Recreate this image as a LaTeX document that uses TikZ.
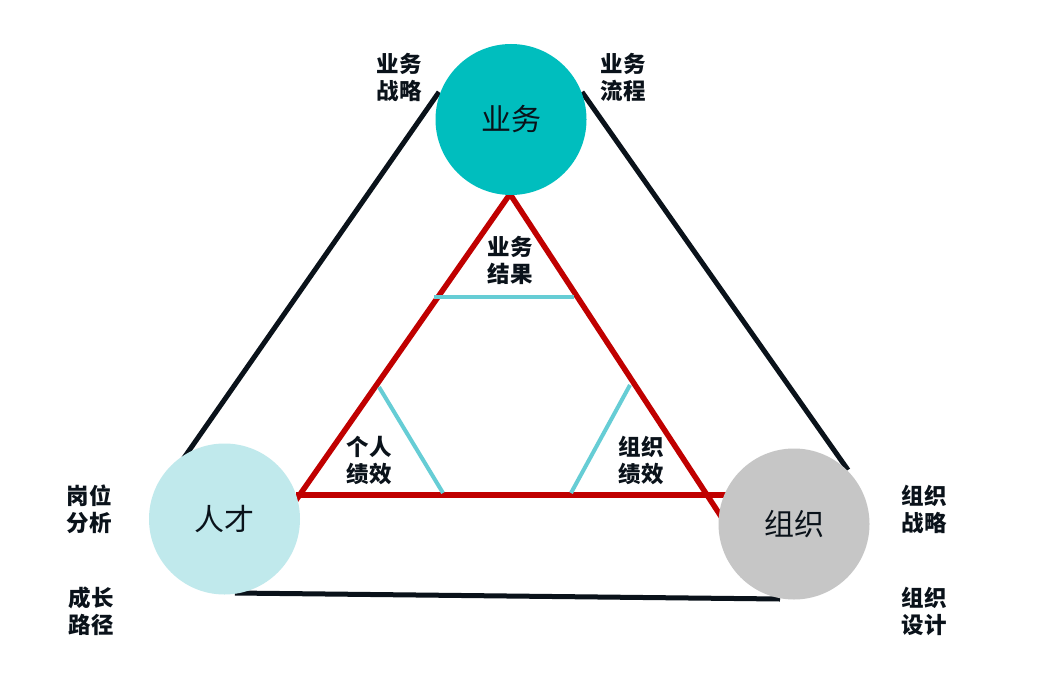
\documentclass[tikz,border=0pt]{standalone}
\usepackage{fontspec}
\newfontfamily\cjk{Noto Sans CJK SC}
\definecolor{teal1}{HTML}{00BEBE}
\definecolor{lblue}{HTML}{C0E9EC}
\definecolor{gray1}{HTML}{C6C6C6}
\definecolor{red1}{HTML}{C00000}
\definecolor{cyan1}{HTML}{66CDD5}
\definecolor{ink}{HTML}{0A121A}
\tikzset{
  blk/.style={draw=ink, line width=5pt},
  redl/.style={draw=red1, line width=5.5pt},
  cyl/.style={draw=cyan1, line width=4pt},
  circ/.style={circle, minimum size=151pt, inner sep=0pt, font=\cjk\fontsize{30}{34}\selectfont, text=ink},
  lbl/.style={font=\cjk\bfseries\fontsize{22.5}{27}\selectfont, text=ink, align=center, inner sep=0pt},
}
\begin{document}
\begin{tikzpicture}[x=1pt,y=-1pt]
\fill[white] (0,0) rectangle (1051,693);
\useasboundingbox (0,0) rectangle (1051,693);
% black triangle
\coordinate (bt1) at (439,92);
\coordinate (bl1) at (156,498);
\coordinate (bt2) at (582,92);
\coordinate (br2) at (848,470);
\coordinate (bb1) at (235,593);
\coordinate (bb2) at (780,599);
\draw[blk] (bt1) -- (bl1);
\draw[blk] (bt2) -- (br2);
\draw[blk] (bb1) -- (bb2);
% red triangle
\coordinate (ra) at (510,194);
\coordinate (rl) at (294,503);
\coordinate (rb1) at (296,495);
\coordinate (rb2) at (730,495);
\coordinate (rr) at (726,524);
\draw[redl, line join=miter] (rl) -- (ra) -- (rr);
\draw[redl] (rb1) -- (rb2);
% cyan lines
\coordinate (c1a) at (434,297);
\coordinate (c1b) at (574,297);
\coordinate (c2a) at (379,387);
\coordinate (c2b) at (443,493);
\coordinate (c3a) at (630,385);
\coordinate (c3b) at (571,493);
\draw[cyl] (c1a) -- (c1b);
\draw[cyl] (c2a) -- (c2b);
\draw[cyl] (c3a) -- (c3b);
% circles
\node[circ, fill=teal1] (yw) at (511,119.5) {业务};
\node[circ, fill=lblue] (rc) at (224.5,519) {人才};
\node[circ, fill=gray1] (zz) at (794,524) {组织};
% labels
\node[lbl] (l1) at (399,77) {业务\\战略};
\node[lbl] (l2) at (623,77) {业务\\流程};
\node[lbl] (l3) at (510,260) {业务\\结果};
\node[lbl] (l4) at (369,460) {个人\\绩效};
\node[lbl] (l5) at (641,460) {组织\\绩效};
\node[lbl] (l6) at (89,509) {岗位\\分析};
\node[lbl] (l7) at (91,611) {成长\\路径};
\node[lbl] (l8) at (924,509) {组织\\战略};
\node[lbl] (l9) at (924,611) {组织\\设计};
\end{tikzpicture}
\end{document}
